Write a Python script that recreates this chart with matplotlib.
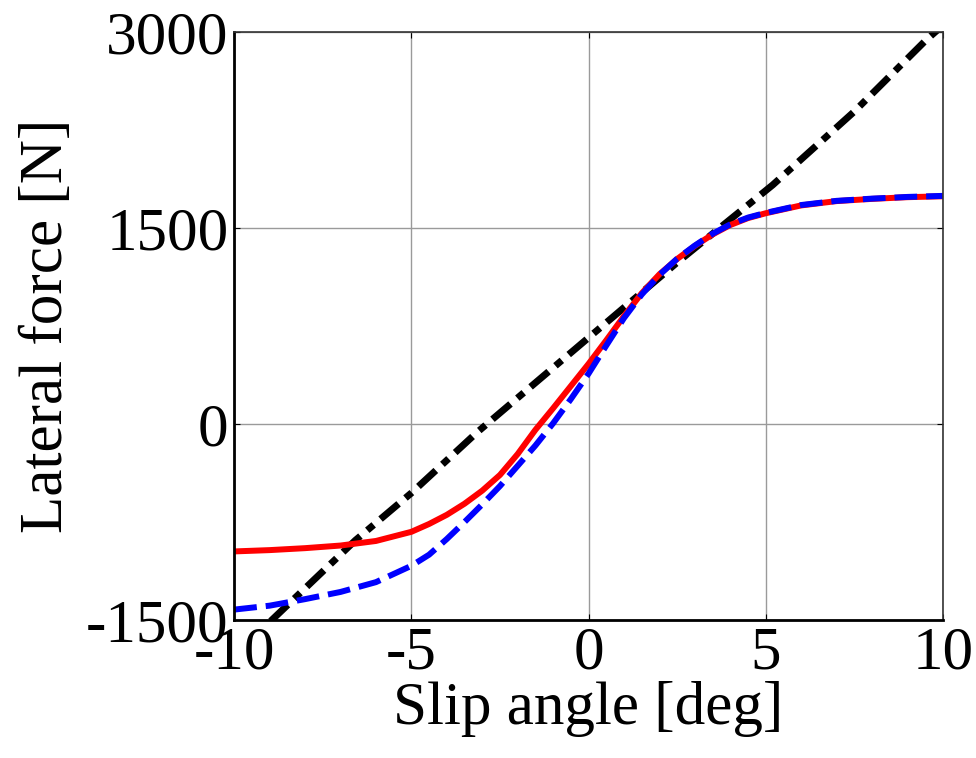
import numpy as np
import matplotlib
matplotlib.use("Agg")
import matplotlib.pyplot as plt

plt.rcParams['font.family'] = ['Liberation Serif', 'DejaVu Serif']
plt.rcParams['axes.unicode_minus'] = False

# slip angle [deg]
slip = [-10, -9, -8, -7, -6, -5, -4.5, -4, -3.5, -3, -2.5, -2, -1.5, -1, -0.5,
        0, 0.5, 1, 1.5, 2, 2.5, 3, 3.5, 4, 4.5, 5, 6, 7, 8, 9, 10]

# red solid curve
red_force = [-975, -965, -950, -930, -895, -825, -765, -695, -610, -510, -390, -230,
             -45, 120, 290, 460, 640, 825, 1000, 1145, 1262, 1362, 1450, 1522,
             1575, 1612, 1672, 1705, 1722, 1735, 1742]

# blue dashed curve
blue_force = [-1420, -1390, -1340, -1285, -1210, -1085, -1000, -880, -750, -615, -475,
              -320, -165, 5, 190, 385, 600, 810, 990, 1140, 1264, 1365, 1455, 1527,
              1579, 1615, 1675, 1707, 1724, 1737, 1745]

# black dash-dot curve
lin_slip = [-10, -8.94, -6.58, -5, -3.15, -1.5, 0, 2.5, 5.2, 7.5, 9.53, 10]
lin_force = [-1770, -1500, -890, -528, -65, 315, 660, 1235, 1829, 2390, 2938, 3050]

fig = plt.figure(figsize=(9.76, 7.58), dpi=100)
ax = fig.add_axes([0.240, 0.182, 0.726, 0.776])

ax.plot(lin_slip, lin_force, color='black', linewidth=5,
        dashes=(3.4, 1.3, 1.2, 1.3))
ax.plot(slip, red_force, color='red', linewidth=4.3)
ax.plot(slip, blue_force, color='blue', linewidth=4.3,
        dashes=(3.8, 1.5))

ax.set_xlim(-10, 10)
ax.set_ylim(-1500, 3000)
ax.set_xticks([-10, -5, 0, 5, 10])
ax.set_yticks([-1500, 0, 1500, 3000])
ax.grid(True, color='#9a9a9a', linewidth=1)
ax.tick_params(direction='in', length=4, top=True, right=True, labelsize=44, pad=4)

for s in ['left', 'bottom']:
    ax.spines[s].set_linewidth(2)
for s in ['top', 'right']:
    ax.spines[s].set_linewidth(1.2)
    ax.spines[s].set_color('#333333')

ax.set_xlabel('Slip angle [deg]', fontsize=44, labelpad=0)
ax.set_ylabel('Lateral force [N]', fontsize=44, labelpad=8)

fig.savefig('out.png', dpi=100)
